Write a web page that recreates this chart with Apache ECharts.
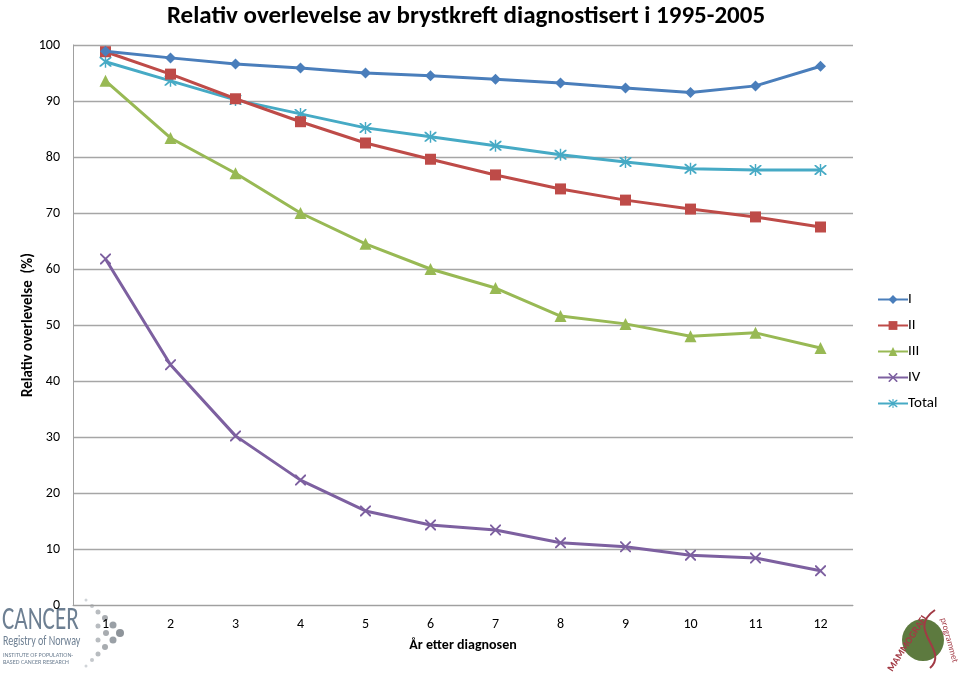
<!DOCTYPE html>
<html><head><meta charset="utf-8">
<script src="https://cdn.jsdelivr.net/npm/echarts@6/dist/echarts.min.js"></script>
<style>html,body{margin:0;padding:0;background:#fff}#c{width:959px;height:673px}</style>
</head><body><div id="c"></div>
<script>
const categories = ['1','2','3','4','5','6','7','8','9','10','11','12'];
const seriesNames = ['I','II','III','IV','Total'];
const valsI =     [98.9, 97.7, 96.6, 95.9, 95.0, 94.5, 93.9, 93.2, 92.3, 91.5, 92.7, 96.2];
const valsII =    [98.8, 94.8, 90.4, 86.3, 82.5, 79.6, 76.8, 74.3, 72.3, 70.7, 69.3, 67.5];
const valsIII =   [93.6, 83.4, 77.1, 70.0, 64.5, 60.0, 56.6, 51.6, 50.2, 48.0, 48.6, 45.9];
const valsIV =    [61.8, 42.9, 30.2, 22.3, 16.8, 14.3, 13.4, 11.1, 10.4, 8.9, 8.4, 6.1];
const valsTotal = [97.0, 93.6, 90.2, 87.7, 85.2, 83.6, 82.0, 80.4, 79.1, 77.9, 77.7, 77.7];

const colors = ['#4a7ebb', '#be4b48', '#98b954', '#7d60a0', '#46aac5'];
const xPath = 'path://M0,0 L1.2,0 L5,3.8 L8.8,0 L10,0 L10,1.2 L6.2,5 L10,8.8 L10,10 L8.8,10 L5,6.2 L1.2,10 L0,10 L0,8.8 L3.8,5 L0,1.2 Z';
const starPath = 'path://M0,0 L1.2,0 L5,3.8 L8.8,0 L10,0 L10,1.2 L6.2,5 L10,8.8 L10,10 L8.8,10 L5,6.2 L1.2,10 L0,10 L0,8.8 L3.8,5 L0,1.2 Z M4.4,-1 L5.6,-1 L5.6,11 L4.4,11 Z';
const symbols = ['diamond', 'rect', 'triangle', xPath, starPath];
const symbolSizes = [11, 11, 12, 11, 12];
const data = [valsI, valsII, valsIII, valsIV, valsTotal];

const chart = echarts.init(document.getElementById('c'));
const ff = 'Carlito, "Liberation Sans", sans-serif';
chart.setOption({
  animation: false,
  textStyle: { fontFamily: ff },
  title: {
    text: 'Relativ overlevelse av brystkreft diagnostisert i 1995-2005',
    left: 461, top: -1, textAlign: 'center',
    textStyle: { fontFamily: ff, fontSize: 25, fontWeight: 'bold', color: '#000' }
  },
  grid: { left: 73, right: 106, top: 45, bottom: 68 },
  legend: {
    orient: 'vertical', left: 872, top: 287, itemWidth: 30, itemHeight: 11, itemGap: 11,
    data: seriesNames,
    textStyle: { fontFamily: ff, fontSize: 15, color: '#000', padding: [0,0,0,-5] }
  },
  xAxis: {
    type: 'category', data: categories, boundaryGap: true,
    name: 'År etter diagnosen', nameLocation: 'middle', nameGap: 33,
    nameTextStyle: { fontFamily: ff, fontSize: 14, fontWeight: 'bold', color: '#000' },
    axisLine: { lineStyle: { color: '#a0a0a0', width: 1 } },
    axisTick: { show: false },
    axisLabel: { color: '#000', fontSize: 14, margin: 12, fontFamily: ff }
  },
  yAxis: {
    type: 'value', min: 0, max: 100, interval: 10,
    name: 'Relativ overlevelse  (%)', nameLocation: 'middle', nameGap: 37, nameMoveOverlap: false,
    nameTextStyle: { fontFamily: ff, fontSize: 15, fontWeight: 'bold', color: '#000' },
    axisLine: { show: true, lineStyle: { color: '#a0a0a0', width: 1 } },
    axisTick: { show: false },
    axisLabel: { color: '#000', fontSize: 14, margin: 13, fontFamily: ff },
    splitLine: { lineStyle: { color: '#a6a6a6', width: 1.3 } }
  },
  series: seriesNames.map((n, i) => ({
    name: n, type: 'line', data: data[i],
    symbol: symbols[i], symbolSize: symbolSizes[i],
    lineStyle: { color: colors[i], width: 3 },
    itemStyle: { color: colors[i] },
    z: 10 - i
  })),
  graphic: [
    { type: 'text', x: 2, y: 604, scaleX: 0.7, style: { text: 'CANCER', fontSize: 33, fontFamily: ff, fill: '#6d7f92' } },
    { type: 'text', x: 3, y: 634, scaleX: 0.72, style: { text: 'Registry of Norway', fontSize: 14, fontFamily: ff, fill: '#6d7f92' } },
    { type: 'text', x: 3, y: 652, scaleX: 0.95, style: { text: 'INSTITUTE OF POPULATION-\nBASED CANCER RESEARCH', fontSize: 6.5, lineHeight: 7, fontFamily: ff, fill: '#6d7f92' } },
    { type: 'group', x: 84, y: 598, children: [
      { type: 'circle', shape: { cx: 2, cy: 2, r: 1.5 }, style: { fill: '#d0d4d8' } },
      { type: 'circle', shape: { cx: 8, cy: 8, r: 2 }, style: { fill: '#c4c8cc' } },
      { type: 'circle', shape: { cx: 14, cy: 14, r: 2.5 }, style: { fill: '#b8bcc0' } },
      { type: 'circle', shape: { cx: 21, cy: 20, r: 3 }, style: { fill: '#a8acb0' } },
      { type: 'circle', shape: { cx: 29, cy: 27, r: 3.5 }, style: { fill: '#9aa0a6' } },
      { type: 'circle', shape: { cx: 36, cy: 35, r: 4 }, style: { fill: '#8e949a' } },
      { type: 'circle', shape: { cx: 29, cy: 42, r: 3.5 }, style: { fill: '#9aa0a6' } },
      { type: 'circle', shape: { cx: 21, cy: 49, r: 3 }, style: { fill: '#a8acb0' } },
      { type: 'circle', shape: { cx: 14, cy: 56, r: 2.5 }, style: { fill: '#b8bcc0' } },
      { type: 'circle', shape: { cx: 8, cy: 62, r: 2 }, style: { fill: '#c4c8cc' } },
      { type: 'circle', shape: { cx: 2, cy: 68, r: 1.5 }, style: { fill: '#d0d4d8' } },
      { type: 'circle', shape: { cx: 22, cy: 35, r: 3 }, style: { fill: '#a8acb0' } },
      { type: 'circle', shape: { cx: 14, cy: 28, r: 2.5 }, style: { fill: '#b8bcc0' } },
      { type: 'circle', shape: { cx: 14, cy: 42, r: 2.5 }, style: { fill: '#b8bcc0' } }
    ] },
    { type: 'circle', shape: { cx: 923, cy: 640, r: 21 }, style: { fill: '#5d7a3f' } },
    { type: 'bezierCurve', shape: { x1: 935, y1: 610, cpx1: 905, cpy1: 630, cpx2: 950, cpy2: 650, x2: 930, y2: 668 }, style: { stroke: '#a23a45', lineWidth: 2, fill: null } },
    { type: 'text', x: 886, y: 668, rotation: 1.0, style: { text: 'MAMMOGRAFI', fontSize: 10, fontWeight: 'bold', fontFamily: ff, fill: '#a23a45' } },
    { type: 'text', x: 947, y: 617, rotation: -1.3, style: { text: 'programmet', fontSize: 9, fontFamily: ff, fill: '#a23a45' } }
  ]
});
</script></body></html>
